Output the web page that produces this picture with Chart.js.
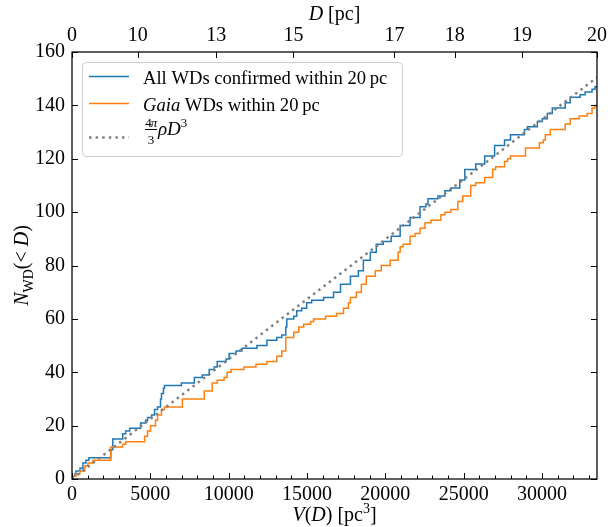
<!DOCTYPE html>
<html>
<head>
<meta charset="utf-8">
<script src="https://cdn.jsdelivr.net/npm/chart.js@4.4.1/dist/chart.umd.min.js"></script>
<style>
  html, body { margin: 0; padding: 0; background: #fff; }
  #wrap { width: 611px; height: 527px; }
</style>
</head>
<body>
<div id="wrap"><canvas id="wd-chart" width="611" height="527"></canvas></div>
<script>
// Cumulative white dwarf counts vs enclosed volume V(D) = 4/3 pi D^3
const vMax = 33510;

// All WDs confirmed within 20 pc (step positions in pc^3, count after step)
const allV = [0, 63, 190, 254, 508, 698, 889, 1079, 2475, 2602, 3237, 3427, 3681, 4379, 4697, 4824, 5078, 5268, 5458, 5649,
  5712, 5839, 5903, 6982, 7807, 8315, 8759, 9076, 9267, 9838, 10028, 10473, 10853, 11805, 12440, 13075, 13392, 13646, 13710, 14154,
  14344, 14662, 14979, 15296, 16058, 16693, 17137, 17772, 18279, 18597, 19041, 19422, 19866, 20374, 20945, 21580, 22215, 22595, 22723, 23357,
  23801, 24182, 24753, 25071, 25769, 26340, 26975, 27609, 27990, 28879, 29069, 29704, 30021, 30339, 30656, 31481, 31798, 32433, 32751, 33195,
  33385, 33510];
const allN = [0, 1, 2, 3, 4, 6, 7, 8, 11, 15, 17, 18, 19, 21, 22, 23, 24, 26, 27, 30,
  32, 34, 35, 36, 38, 39, 41, 42, 44, 45, 47, 48, 49, 50, 52, 53, 54, 57, 60, 61,
  63, 64, 66, 67, 68, 70, 73, 76, 78, 82, 85, 88, 89, 91, 95, 98, 102, 103, 105, 106,
  108, 109, 112, 116, 118, 121, 125, 127, 129, 131, 132, 134, 135, 137, 139, 141, 143, 144, 145, 146,
  147, 147];

// Gaia WDs within 20 pc
const gaiaV = [0, 63, 254, 508, 825, 1016, 1333, 2475, 3237, 3427, 4633, 4824, 5014, 5331, 5458, 5712, 5903, 7045, 8442, 8949,
  9267, 9711, 9901, 10155, 10980, 11742, 12440, 13075, 13392, 13646, 14154, 14471, 14789, 15233, 15423, 16185, 16883, 17327, 17645, 17772,
  18152, 18470, 18787, 19358, 19739, 20310, 20818, 20945, 21136, 21580, 21897, 22215, 22532, 22913, 23547, 23801, 24182, 24626, 24944, 25451,
  25769, 26340, 26848, 27038, 27609, 27800, 27990, 28943, 29831, 30085, 30212, 30529, 31481, 31798, 32370, 32878, 33195, 33385, 33510];
const gaiaN = [0, 1, 2, 3, 5, 6, 7, 12, 13, 14, 16, 18, 20, 22, 24, 26, 27, 30, 33, 36,
  37, 38, 40, 41, 42, 43, 44, 46, 48, 53, 55, 57, 58, 59, 60, 61, 62, 64, 66, 68,
  70, 73, 76, 78, 80, 82, 85, 87, 88, 91, 92, 94, 96, 97, 99, 100, 101, 104, 106, 110,
  111, 113, 116, 117, 119, 120, 121, 124, 126, 127, 129, 131, 133, 135, 136, 137, 139, 140, 140];

// Uniform density model, rho = 4.49e-3 pc^-3 (straight line in V)
const modelV = [0, 33510];
const modelN = [0, 150.5];

const xTicks = [0, 5000, 10000, 15000, 20000, 25000, 30000];
const xMinorStep = 1000;
const yTicks = [0, 20, 40, 60, 80, 100, 120, 140, 160];
const dTicks = [0, 10, 13, 15, 17, 18, 19, 20];

const SERIF = '"Liberation Serif", "DejaVu Serif", serif';
const BLUE = '#1f77b4';
const ORANGE = '#ff7f0e';
const GREY = '#808080';

function volume(d) { return 4 / 3 * Math.PI * d * d * d; }
function toPoints(xs, ys) { return xs.map((x, i) => ({ x: x, y: ys[i] })); }

// mixed roman / italic text helpers
function fontOf(p) { return (p.it ? 'italic ' : '') + (p.size || 20) + 'px ' + SERIF; }
function richWidth(ctx, parts) {
  let w = 0;
  for (const p of parts) { ctx.font = fontOf(p); w += ctx.measureText(p.t).width; }
  return w;
}
function drawRich(ctx, parts, x, y, align) {
  let cx = align === 'center' ? x - richWidth(ctx, parts) / 2 : x;
  for (const p of parts) {
    ctx.font = fontOf(p);
    ctx.fillText(p.t, cx, y + (p.dy || 0));
    cx += ctx.measureText(p.t).width;
  }
}

const framePlugin = {
  id: 'framePlugin',
  afterDraw(chart) {
    const ctx = chart.ctx;
    const a = chart.chartArea;
    const xs = chart.scales.x, ys = chart.scales.y, x2 = chart.scales.x2;
    ctx.save();
    ctx.strokeStyle = '#000';
    ctx.lineWidth = 1;
    ctx.beginPath();
    // bottom major + minor ticks (inward)
    for (let v = 0; v <= vMax; v += xMinorStep) {
      const px = Math.round(xs.getPixelForValue(v)) + 0.5;
      const len = (v % 5000 === 0) ? 6 : 3.5;
      ctx.moveTo(px, a.bottom); ctx.lineTo(px, a.bottom - len);
    }
    // top ticks at D values
    dTicks.forEach(d => {
      const px = Math.round(x2.getPixelForValue(volume(d))) + 0.5;
      ctx.moveTo(px, a.top); ctx.lineTo(px, a.top + 6);
    });
    // left / right ticks
    yTicks.forEach(v => {
      const py = Math.round(ys.getPixelForValue(v)) + 0.5;
      ctx.moveTo(a.left, py); ctx.lineTo(a.left + 6, py);
      ctx.moveTo(a.right, py); ctx.lineTo(a.right - 6, py);
    });
    ctx.stroke();
    ctx.lineWidth = 1.25;
    ctx.strokeRect(a.left, a.top, a.right - a.left, a.bottom - a.top);

    // axis titles
    ctx.fillStyle = '#000';
    ctx.textBaseline = 'alphabetic';
    const cx = (a.left + a.right) / 2;
    drawRich(ctx, [{ t: 'V', it: true }, { t: '(' }, { t: 'D', it: true }, { t: ') [pc' },
      { t: '3', size: 14, dy: -8 }, { t: ']' }], cx, 521, 'center');
    drawRich(ctx, [{ t: 'D', it: true }, { t: ' [pc]' }], cx, 20, 'center');
    ctx.save();
    ctx.translate(28, (a.top + a.bottom) / 2);
    ctx.rotate(-Math.PI / 2);
    drawRich(ctx, [{ t: 'N', it: true }, { t: 'WD', size: 14, dy: 5 }, { t: '(< ' }, { t: 'D', it: true }, { t: ')' }],
      0, 0, 'center');
    ctx.restore();

    // legend
    const lx = 82.5, ly = 62.5, lw = 320, lh = 94;
    ctx.beginPath();
    ctx.roundRect(lx, ly, lw, lh, 4);
    ctx.fillStyle = 'rgba(255,255,255,0.8)';
    ctx.fill();
    ctx.strokeStyle = '#cccccc';
    ctx.lineWidth = 1;
    ctx.stroke();

    const rows = chart.data.datasets;
    const rowY = [76.5, 103.5, 137.5];
    rows.forEach((ds, i) => {
      ctx.save();
      ctx.strokeStyle = ds.borderColor;
      ctx.lineWidth = ds.borderWidth;
      ctx.setLineDash(ds.borderDash || []);
      ctx.lineCap = 'butt';
      ctx.beginPath();
      ctx.moveTo(89, rowY[i]); ctx.lineTo(129, rowY[i]);
      ctx.stroke();
      ctx.restore();
    });
    ctx.fillStyle = '#000';
    drawRich(ctx, [{ t: 'All WDs confirmed within 20\u2009pc', size: 18.6 }], 143, 83.5, 'left');
    drawRich(ctx, [{ t: 'Gaia', it: true, size: 18.6 }, { t: ' WDs within 20\u2009pc', size: 18.6 }], 143, 110.5, 'left');
    // 4pi/3 rho D^3
    ctx.font = fontOf({ size: 13 });
    ctx.textAlign = 'center';
    ctx.fillText('4', 148.5, 127);
    ctx.font = fontOf({ it: true, size: 13 });
    ctx.fillText('\u03c0', 154, 127);
    ctx.font = fontOf({ size: 13 });
    ctx.fillText('3', 151, 143.5);
    ctx.textAlign = 'left';
    ctx.fillRect(145, 129, 12, 1);
    drawRich(ctx, [{ t: '\u03c1D', it: true, size: 19 }, { t: '3', size: 13, dy: -8 }], 158, 134.5, 'left');
    ctx.restore();
  }
};

const ctx = document.getElementById('wd-chart').getContext('2d');
new Chart(ctx, {
  type: 'line',
  data: {
    datasets: [
      {
        label: 'All WDs confirmed within 20 pc',
        data: toPoints(allV, allN),
        borderColor: BLUE,
        borderWidth: 1.5,
        stepped: true,
        pointRadius: 0,
        fill: false,
        order: 3
      },
      {
        label: 'Gaia WDs within 20 pc',
        data: toPoints(gaiaV, gaiaN),
        borderColor: ORANGE,
        borderWidth: 1.5,
        stepped: true,
        pointRadius: 0,
        fill: false,
        order: 2
      },
      {
        label: '4\u03c0/3 \u03c1 D^3',
        data: toPoints(modelV, modelN),
        borderColor: GREY,
        borderWidth: 2.5,
        borderDash: [2.5, 4.1],
        borderCapStyle: 'butt',
        pointRadius: 0,
        fill: false,
        order: 1
      }
    ]
  },
  options: {
    responsive: false,
    animation: false,
    devicePixelRatio: 1,
    layout: { padding: { left: 0, right: 11, top: 0, bottom: 0 } },
    plugins: { legend: { display: false }, tooltip: { enabled: false } },
    font: { family: SERIF },
    scales: {
      x: {
        type: 'linear', position: 'bottom', min: 0, max: vMax,
        afterBuildTicks: s => { s.ticks = xTicks.map(v => ({ value: v })); },
        afterFit: s => { s.height = 48; },
        ticks: { autoSkip: false, maxRotation: 0, padding: 4, color: '#000',
          font: { family: SERIF, size: 20 }, callback: v => String(v) },
        grid: { display: false, drawTicks: false },
        border: { display: false }
      },
      x2: {
        type: 'linear', position: 'top', min: 0, max: vMax,
        afterBuildTicks: s => { s.ticks = dTicks.map(d => ({ value: volume(d) })); },
        afterFit: s => { s.height = 52; },
        ticks: { autoSkip: false, maxRotation: 0, padding: 4, color: '#000',
          font: { family: SERIF, size: 20 }, callback: (v, i) => String(dTicks[i]) },
        grid: { display: false, drawTicks: false },
        border: { display: false }
      },
      y: {
        type: 'linear', min: 0, max: 160,
        afterBuildTicks: s => { s.ticks = yTicks.map(v => ({ value: v })); },
        afterFit: s => { s.width = 72; },
        ticks: { padding: 7, color: '#000', font: { family: SERIF, size: 20 } },
        grid: { display: false, drawTicks: false },
        border: { display: false }
      }
    }
  },
  plugins: [framePlugin]
});
</script>
</body>
</html>
